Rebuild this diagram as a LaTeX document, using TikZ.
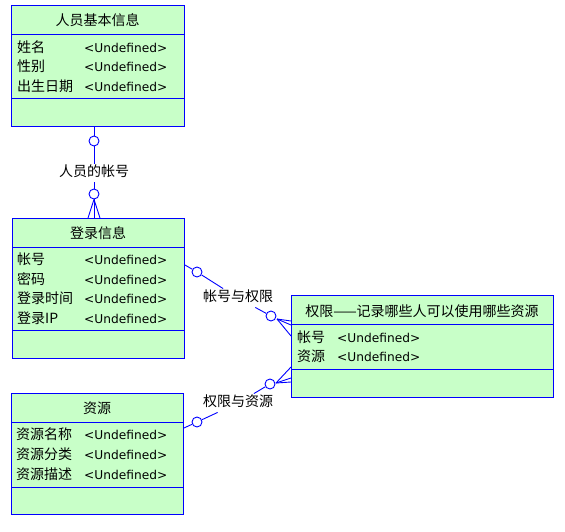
\documentclass[tikz,border=0pt]{standalone}
\usepackage{fontspec}
\setmainfont{Noto Sans CJK SC}
\newfontfamily\latinfont{DejaVu Sans}
\usetikzlibrary{positioning}
\definecolor{entgreen}{RGB}{200,255,200}
\newcommand{\undef}{{\latinfont\fontsize{12.2}{14}\selectfont<Undefined>}}

\begin{document}
\begin{tikzpicture}[x=1pt, y=-1pt,
  entity/.style={draw=blue, fill=entgreen, line width=1pt, anchor=north west, inner sep=0pt},
  sep/.style={draw=blue, line width=1pt},
  title/.style={font=\fontsize{14}{16}\selectfont, inner sep=0pt, yshift=-1pt},
  attr/.style={font=\fontsize{14}{16}\selectfont, anchor=west, inner sep=0pt, yshift=-0.5pt},
  rel/.style={draw=blue, line width=0.9pt},
  card/.style={circle, draw=blue, line width=0.9pt, fill=white, minimum size=10pt, inner sep=0pt},
  lab/.style={font=\fontsize{14}{16}\selectfont, inner sep=3pt, text height=10pt, text depth=2.5pt, yshift=-1pt}
]
\useasboundingbox (0,0) rectangle (565,531);

% Entity: person info
\node[entity, minimum width=173pt, minimum height=121pt] (person) at (11,5) {};
\draw[sep] (11,34) -- (184,34);
\draw[sep] (11,98) -- (184,98);
\node[title] (person-t) at (97.5,19) {人员基本信息};
\node[attr] (person-a1) at (17,47) {姓名};
\node[attr] (person-a2) at (17,66) {性别};
\node[attr] (person-a3) at (17,86) {出生日期};
\node[attr] (person-d1) at (84,47) {\undef};
\node[attr] (person-d2) at (84,66) {\undef};
\node[attr] (person-d3) at (84,86) {\undef};

% Entity: login info
\node[entity, minimum width=172pt, minimum height=140pt] (login) at (12,218) {};
\draw[sep] (12,247) -- (184,247);
\draw[sep] (12,330) -- (184,330);
\node[title] (login-t) at (98,232) {登录信息};
\node[attr] (login-a1) at (17,259) {帐号};
\node[attr] (login-a2) at (17,279) {密码};
\node[attr] (login-a3) at (17,298) {登录时间};
\node[attr] (login-a4) at (17,318) {登录IP};
\node[attr] (login-d1) at (84,259) {\undef};
\node[attr] (login-d2) at (84,279) {\undef};
\node[attr] (login-d3) at (84,298) {\undef};
\node[attr] (login-d4) at (84,318) {\undef};

% Entity: permission
\node[entity, minimum width=262pt, minimum height=102pt] (perm) at (291,295) {};
\draw[sep] (291,324) -- (553,324);
\draw[sep] (291,369) -- (553,369);
\node[title] (perm-t) at (422,310) {权限——记录哪些人可以使用哪些资源};
\node[attr] (perm-a1) at (297,337) {帐号};
\node[attr] (perm-a2) at (297,356) {资源};
\node[attr] (perm-d1) at (337,337) {\undef};
\node[attr] (perm-d2) at (337,356) {\undef};

% Entity: resource
\node[entity, minimum width=172pt, minimum height=121pt] (res) at (11,393) {};
\draw[sep] (11,422) -- (183,422);
\draw[sep] (11,487) -- (183,487);
\node[title] (res-t) at (97,407) {资源};
\node[attr] (res-a1) at (16,434) {资源名称};
\node[attr] (res-a2) at (16,454) {资源分类};
\node[attr] (res-a3) at (16,474) {资源描述};
\node[attr] (res-d1) at (84,434) {\undef};
\node[attr] (res-d2) at (84,454) {\undef};
\node[attr] (res-d3) at (84,474) {\undef};

% Relation: person -- login
\node[card] (o1) at (94,141) {};
\node[lab] (l1) at (94,172) {人员的帐号};
\node[card] (o2) at (94,194) {};
\draw[rel] (o1 |- person.south) -- (o1);
\draw[rel] (o1) -- (l1);
\draw[rel] (l1) -- (o2);
\draw[rel] (o2.south) -- (login.north -| 88,0);
\draw[rel] (o2.south) -- (login.north -| 94,0);
\draw[rel] (o2.south) -- (login.north -| 100,0);

% Relation: login -- permission
\node[card] (o3) at (197,272) {};
\node[lab] (l2) at (238,297) {帐号与权限};
\node[card] (o4) at (271,316) {};
\coordinate (f2) at (277,319);
\draw[rel] (login.east |- 0,265) -- (o3);
\draw[rel] (o3) -- (l2);
\draw[rel] (l2) -- (o4);
\draw[rel] (f2) -- (perm.west |- 0,321);
\draw[rel] (f2) -- (perm.west |- 0,325);
\draw[rel] (f2) -- (perm.west |- 0,336);

% Relation: resource -- permission
\node[card] (o5) at (197,422) {};
\node[lab] (l3) at (238,402) {权限与资源};
\node[card] (o6) at (270,384) {};
\coordinate (f3) at (276,383);
\draw[rel] (res.east |- 0,428) -- (o5);
\draw[rel] (o5) -- (l3);
\draw[rel] (l3) -- (o6);
\draw[rel] (f3) -- (perm.west |- 0,367);
\draw[rel] (f3) -- (perm.west |- 0,378);
\draw[rel] (f3) -- (perm.west |- 0,382);
\end{tikzpicture}
\end{document}
